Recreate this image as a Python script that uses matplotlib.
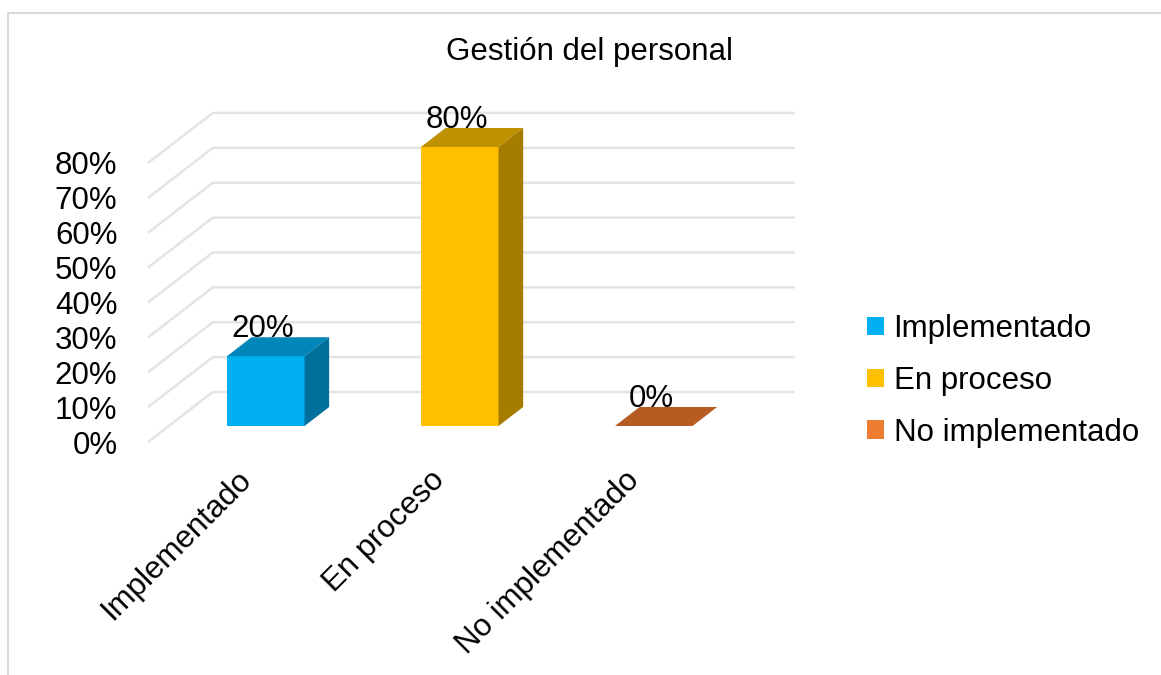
import matplotlib
matplotlib.use("Agg")
import matplotlib.pyplot as plt
import matplotlib.transforms as mtransforms
from matplotlib.patches import Polygon, Patch
from matplotlib.lines import Line2D

plt.rcParams["font.family"] = ["Liberation Sans", "DejaVu Sans"]

# data
categories = ["Implementado", "En proceso", "No implementado"]
values = [20, 80, 0]
yticks = [0, 10, 20, 30, 40, 50, 60, 70, 80]

# face colours: front / top / side
front_colors = ["#00B0F0", "#FFC000", "#ED7D31"]
top_colors = ["#0086B8", "#BF9000", "#B65B22"]
side_colors = ["#006F9C", "#A67C00", "#9A4A1A"]

W, H = 1161, 675
FS = 22.5

# pseudo-3d geometry, in data units
DX, DY = 0.334, 14.34      # shift from front of floor to back wall
D0, D1 = 0.32, 0.70        # bar depth span (fraction of floor depth)
BAR_W = 0.40

fig = plt.figure(figsize=(W / 100, H / 100), dpi=100)
ax = fig.add_axes([148 / W, (H - 442) / H, 582 / W, (442 - 163) / H])
ax.set_xlim(-0.5, 2.5)
ax.set_ylim(0, 80)
for s in ax.spines.values():
    s.set_visible(False)

# walls: diagonal floor edge + horizontal back-wall line per tick
x0, x1 = ax.get_xlim()
for v in yticks:
    ax.plot([x0, x0 + DX, x1 + DX], [v, v + DY, v + DY],
            color="#E4E4E4", lw=1.8, clip_on=False, zorder=1,
            solid_capstyle="butt")

ax.set_yticks(yticks)
ax.set_yticklabels([f"{t}%" for t in yticks], fontsize=FS)
ax.tick_params(axis="y", length=0, pad=22)

xs = list(range(len(categories)))
ax.set_xticks(xs)
ax.set_xticklabels(categories, rotation=45, ha="right", fontsize=FS)
ax.tick_params(axis="x", length=0, pad=16.5)
shift = mtransforms.ScaledTranslation(12 / 100, 0, fig.dpi_scale_trans)
for lbl in ax.get_xticklabels():
    lbl.set_transform(lbl.get_transform() + shift)

# bars: front face via bar(), top and side faces as polygons
fx = [x + D0 * DX for x in xs]
ax.bar(fx, values, width=BAR_W, bottom=D0 * DY, color=front_colors,
       zorder=3, clip_on=False)
ddx, ddy = (D1 - D0) * DX, (D1 - D0) * DY
for i, v in enumerate(values):
    l, r = fx[i] - BAR_W / 2, fx[i] + BAR_W / 2
    b, t = D0 * DY, D0 * DY + v
    top = [(l, t), (r, t), (r + ddx, t + ddy), (l + ddx, t + ddy)]
    ax.add_patch(Polygon(top, closed=True, fc=top_colors[i], ec="none",
                         zorder=3, clip_on=False))
    if v > 0:
        side = [(r, b), (r + ddx, b + ddy), (r + ddx, t + ddy), (r, t)]
        ax.add_patch(Polygon(side, closed=True, fc=side_colors[i],
                             ec="none", zorder=3, clip_on=False))
    ax.text(fx[i] - 0.015, v + D1 * DY, f"{v}%", ha="center",
            va="baseline", fontsize=FS, zorder=4, clip_on=False)

fig.text(590 / W, 1 - 52 / H, "Gestión del personal", ha="center",
         va="center", fontsize=FS)

handles = [Patch(facecolor=c, edgecolor="none") for c in front_colors]
fig.legend(handles, categories, loc="center left",
           bbox_to_anchor=(867 / W, 1 - 381 / H), frameon=False,
           fontsize=FS, handlelength=0.55, handleheight=0.55,
           handletextpad=0.3, labelspacing=0.70, borderpad=0,
           borderaxespad=0)

# chart area outline (left and top edges)
fig.add_artist(Line2D([8 / W, 8 / W, 1.0], [0.0, 1 - 13 / H, 1 - 13 / H],
                      color="#D9D9D9", lw=1.5))

fig.savefig("out.png", dpi=100)
